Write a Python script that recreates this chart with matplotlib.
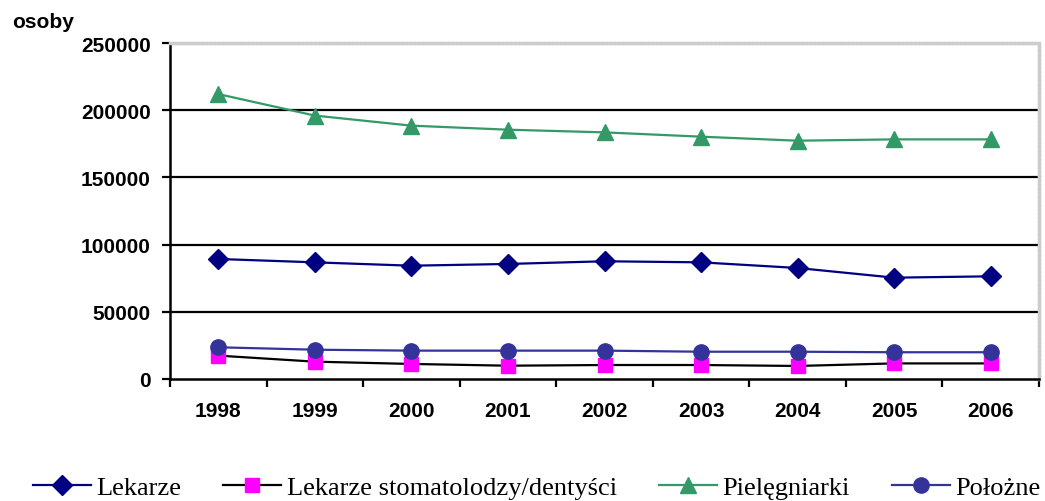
import matplotlib
matplotlib.use("Agg")
import matplotlib.pyplot as plt
from matplotlib.ticker import FixedLocator, NullFormatter

years = ["1998", "1999", "2000", "2001", "2002", "2003", "2004", "2005", "2006"]
lekarze = [89300, 86800, 84300, 85600, 87600, 86800, 82600, 75400, 76400]
stomatolodzy = [17400, 12900, 11200, 9900, 10400, 10400, 9700, 11600, 11600]
pielegniarki = [212000, 196000, 188500, 185500, 183500, 180300, 177300, 178300, 178300]
polozne = [23600, 21800, 21100, 21100, 21100, 20300, 20300, 19900, 19900]
yticks = [0, 50000, 100000, 150000, 200000, 250000]

plt.rcParams['font.family'] = ['Liberation Sans', 'DejaVu Sans']

fig = plt.figure(figsize=(10.45, 5.02), dpi=100)
ax = fig.add_axes([170/1045, 1 - 380/502, 869/1045, 336/502])

x = list(range(len(years)))
ax.plot(x, lekarze, color='#000080', lw=1.6, marker='D', ms=10.5,
        mfc='#000080', mec='#000080', label='Lekarze', zorder=4)
ax.plot(x, stomatolodzy, color='black', lw=1.6, marker='s', ms=10.5,
        mfc='#ff00ff', mec='#ff00ff', label='Lekarze stomatolodzy/dentyści', zorder=3)
ax.plot(x, pielegniarki, color='#339966', lw=1.6, marker='^', ms=11,
        mfc='#339966', mec='#339966', label='Pielęgniarki', zorder=4)
ax.plot(x, polozne, color='#333399', lw=1.6, marker='o', ms=11,
        mfc='#333399', mec='#333399', label='Położne', zorder=4)

ax.set_ylim(0, 250000)
ax.set_xlim(-0.5, len(years) - 0.5)
ax.set_yticks(yticks)
ax.set_yticklabels([str(v) for v in yticks], fontsize=15, fontweight='bold')
for v in yticks[1:-1]:
    ax.axhline(v, color='black', lw=1.6, zorder=1)

# categories between tick marks
ax.xaxis.set_major_locator(FixedLocator([i - 0.5 for i in range(len(years) + 1)]))
ax.xaxis.set_major_formatter(NullFormatter())
ax.xaxis.set_minor_locator(FixedLocator(x))
ax.set_xticklabels(years, minor=True, fontsize=15, fontweight='bold')
ax.tick_params(axis='x', which='minor', length=0, pad=16)
ax.tick_params(axis='x', which='major', length=6, width=1.6, direction='out')
ax.tick_params(axis='y', length=6, width=1.6, pad=8)

for s in ['left', 'bottom']:
    ax.spines[s].set_linewidth(1.8)
    ax.spines[s].set_color('black')
for s in ['top', 'right']:
    ax.spines[s].set_linewidth(2.5)
    ax.spines[s].set_color('#cccccc')
    ax.spines[s].set_linestyle((0, (0.6, 0.6)))

fig.text(12/1045, 1 - 22/502, 'osoby', fontsize=15, fontweight='bold', va='center', ha='left')

fig.legend(loc='center', bbox_to_anchor=(536.5/1045, 1 - 488/502), ncol=4, frameon=False,
           prop={'family': 'Liberation Serif', 'size': 19}, handlelength=2.2,
           handletextpad=0.2, columnspacing=1.6, borderpad=0, borderaxespad=0)

fig.savefig('out.png', dpi=100)
